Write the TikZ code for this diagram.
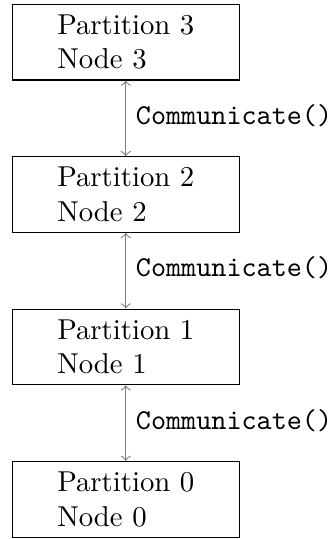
\documentclass[tikz,border=0pt]{standalone}
\usepackage{amsmath}
\usepackage{amssymb}
\usetikzlibrary{positioning}

\begin{document}
\begin{tikzpicture}[part/.style={draw,align=left,inner ysep=3pt,minimum width=79pt,minimum height=26.3pt},
                comm/.style={<->,draw=gray},
                node distance=26.3pt]
                \useasboundingbox (-43.76pt,14.68pt) rectangle (71.74pt,-172.82pt);
                \node [part] (p3) at (0,0) {Partition 3\\Node 3};
                \node [part,below=of p3] (p2) {Partition 2\\Node 2};
                \node [part,below=of p2] (p1) {Partition 1\\Node 1};
                \node [part,below=of p1] (p0) {Partition 0\\Node 0};
                \draw [comm] (p3) -- node [right,yshift=1pt] {\texttt{Communicate()}} (p2);
                \draw [comm] (p2) -- node [right,yshift=1pt] {\texttt{Communicate()}} (p1);
                \draw [comm] (p1) -- node [right,yshift=1pt] {\texttt{Communicate()}} (p0);
            \end{tikzpicture}
\end{document}
